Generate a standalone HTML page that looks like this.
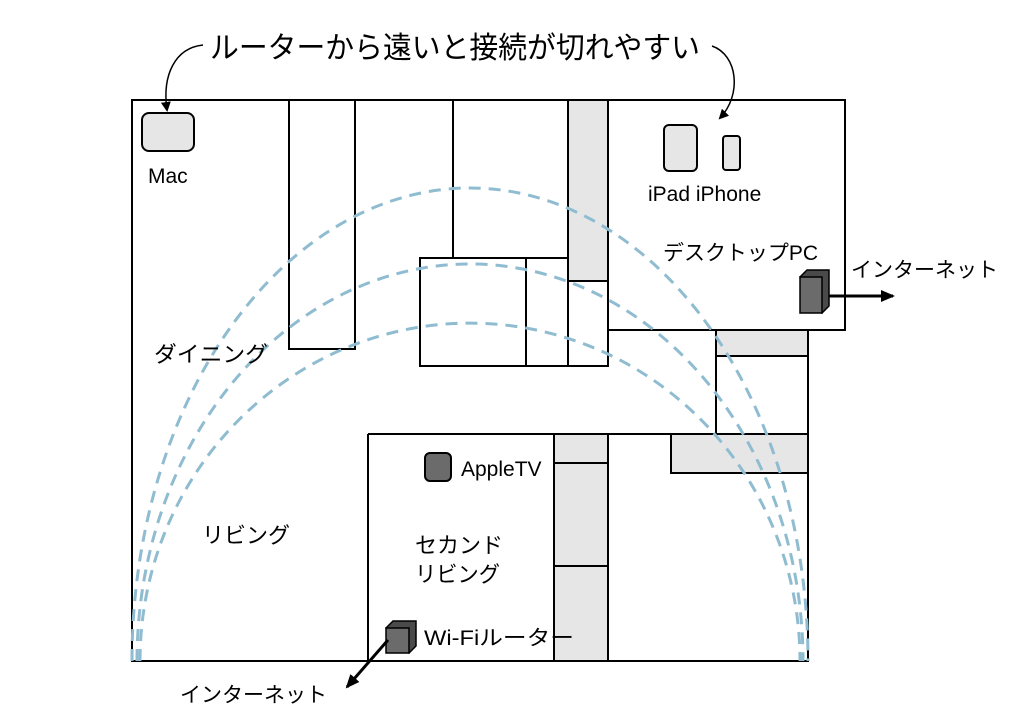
<!DOCTYPE html>
<html><head><meta charset="utf-8"><style>
html,body{margin:0;padding:0;background:#fff;width:1024px;height:724px;overflow:hidden}
text{font-family:"Liberation Sans","Noto Sans CJK JP",sans-serif;fill:#000}
</style></head><body>
<svg width="1024" height="724" viewBox="0 0 1024 724" xmlns="http://www.w3.org/2000/svg">
<defs>
<marker id="ah" markerWidth="10" markerHeight="10" refX="8" refY="5" orient="auto" markerUnits="userSpaceOnUse"><path d="M0,0 L10,5 L0,10 z" fill="#000"/></marker>
<marker id="ah2" markerWidth="14" markerHeight="12" refX="12" refY="6" orient="auto" markerUnits="userSpaceOnUse"><path d="M0,0 L14,6 L0,12 z" fill="#000"/></marker>
</defs>
<g stroke="#000" stroke-width="2" fill="none">
<path d="M132,100 H845 V330 H808 V661 H132 Z" fill="#fff"/>
<rect x="289" y="100" width="66" height="249"/>
<line x1="453" y1="100" x2="453" y2="258"/>
<rect x="420" y="258" width="188" height="108"/>
<line x1="526" y1="258" x2="526" y2="366"/>
<line x1="568" y1="258" x2="568" y2="366"/>
<rect x="568" y="100" width="40" height="181" fill="#e6e6e6"/>
<line x1="608" y1="100" x2="608" y2="366"/>
<line x1="608" y1="330" x2="845" y2="330"/>
<rect x="716" y="330" width="92" height="26" fill="#e6e6e6"/>
<rect x="716" y="356" width="92" height="78"/>
<rect x="671" y="434" width="137" height="39" fill="#e6e6e6"/>
<line x1="368" y1="434" x2="808" y2="434"/>
<line x1="368" y1="434" x2="368" y2="661"/>
<rect x="554" y="434" width="54" height="227" fill="#e6e6e6"/>
<line x1="554" y1="463" x2="608" y2="463"/>
<line x1="554" y1="566" x2="608" y2="566"/>
</g>
<g stroke="#8fbcd0" stroke-width="3" fill="none" stroke-dasharray="12,8">
<path d="M132,661 A338,473 0 0 1 808,661"/>
<path d="M137,661 A333,397 0 0 1 803,661"/>
<path d="M140,661 A330,338 0 0 1 800,661"/>
</g>
<rect x="142" y="113" width="52" height="38" rx="7" fill="#e6e6e6" stroke="#000" stroke-width="2"/>
<rect x="664" y="125" width="33" height="46" rx="5" fill="#e6e6e6" stroke="#000" stroke-width="2"/>
<rect x="723" y="136" width="17" height="34" rx="3" fill="#e6e6e6" stroke="#000" stroke-width="2"/>
<rect x="425" y="453" width="26" height="28" rx="5" fill="#6b6b6b" stroke="#000" stroke-width="2"/>
<g stroke="#000" stroke-width="1.5">
<path d="M800,277 L807,270 L829,270 L829,306 L822,313 Z" fill="#4a4a4a"/>
<rect x="800" y="277" width="22" height="36" fill="#6b6b6b"/>
<path d="M386,628 L393,621 L416,621 L416,646 L409,653 Z" fill="#4a4a4a"/>
<rect x="386" y="628" width="23" height="25" fill="#6b6b6b"/>
</g>
<line x1="829" y1="296" x2="893" y2="296" stroke="#000" stroke-width="3" marker-end="url(#ah2)"/>
<line x1="388" y1="640" x2="347" y2="687" stroke="#000" stroke-width="3" marker-end="url(#ah2)"/>
<path d="M203,45 C175,48 162,75 167,110" stroke="#000" stroke-width="1.5" fill="none" marker-end="url(#ah)"/>
<path d="M712,46 C738,55 742,95 720,118" stroke="#000" stroke-width="1.5" fill="none" marker-end="url(#ah)"/>
<text x="455" y="58" font-size="30" text-anchor="middle" textLength="490" lengthAdjust="spacingAndGlyphs">ルーターから遠いと接続が切れやすい</text>
<text x="148" y="183" font-size="21">Mac</text>
<text x="648" y="201" font-size="21">iPad iPhone</text>
<text x="663" y="260" font-size="21" textLength="155" lengthAdjust="spacingAndGlyphs">デスクトップPC</text>
<text x="851" y="277" font-size="21" textLength="147" lengthAdjust="spacingAndGlyphs">インターネット</text>
<text x="154" y="362" font-size="22" textLength="114" lengthAdjust="spacingAndGlyphs">ダイニング</text>
<text x="461" y="476" font-size="21">AppleTV</text>
<text x="202" y="543" font-size="22" textLength="88" lengthAdjust="spacingAndGlyphs">リビング</text>
<text x="415" y="553" font-size="22">セカンド</text>
<text x="415" y="582" font-size="22" textLength="85" lengthAdjust="spacingAndGlyphs">リビング</text>
<text x="424" y="645" font-size="21" textLength="150" lengthAdjust="spacingAndGlyphs">Wi-Fiルーター</text>
<text x="180" y="702" font-size="21" textLength="147" lengthAdjust="spacingAndGlyphs">インターネット</text>
</svg>
</body></html>
